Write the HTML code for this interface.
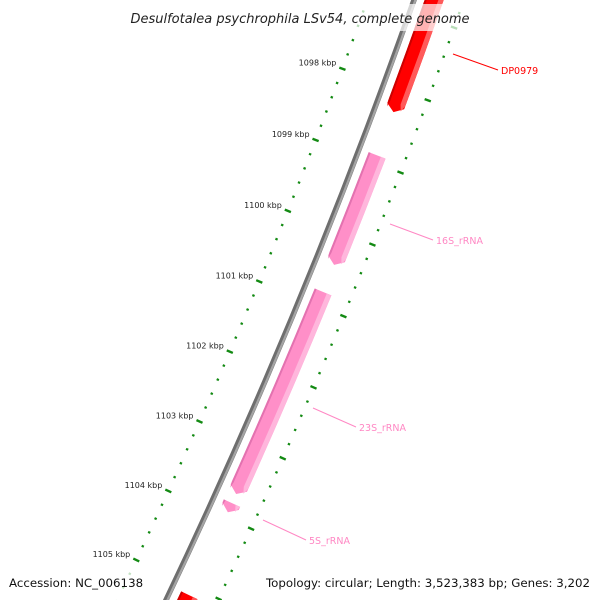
<!DOCTYPE html>
<html><head><meta charset="utf-8">
<style>
html,body{margin:0;padding:0;background:#fff;width:600px;height:600px;overflow:hidden;}
svg{display:block;font-family:"DejaVu Sans","Liberation Sans",sans-serif;overflow:hidden;}
</style></head>
<body>
<svg id="chart" width="600" height="600" viewBox="0 0 600 600" xmlns="http://www.w3.org/2000/svg">
<g id="ticks"></g>
<g id="backbone"></g>
<g id="features"></g>
<g id="labels"></g>
<rect x="120" y="4" width="360" height="27" fill="#fff" fill-opacity="0.7"/>
<text x="300" y="23" text-anchor="middle" font-size="13" font-style="italic" fill="#222">Desulfotalea psychrophila LSv54, complete genome</text>
<rect x="0" y="572" width="152" height="28" fill="#fff" fill-opacity="0.75"/>
<rect x="258" y="572" width="342" height="28" fill="#fff" fill-opacity="0.75"/>
<text x="9" y="587" font-size="11.8" fill="#111">Accession: NC_006138</text>
<text x="590" y="587" text-anchor="end" font-size="11.8" fill="#111">Topology: circular; Length: 3,523,383 bp; Genes: 3,202</text>
</svg>
<script>
const tickStartKbp = 1096.8;
const tickEndKbp = 1105.8;
const majorLabels = [1098, 1099, 1100, 1101, 1102, 1103, 1104, 1105];
const featureNames = ["DP0979", "16S_rRNA", "23S_rRNA", "5S_rRNA", "next-gene"];
const featureStarts = [1096.0, 1098.90, 1100.81, 1103.80, 1105.12];
const featureEnds = [1098.30, 1100.43, 1103.67, 1103.93, 1107.0];
const featureKinds = ["gene", "rrna", "rrna", "rrna", "gene"];
const labelTexts = ["DP0979", "16S_rRNA", "23S_rRNA", "5S_rRNA"];

const NS = "http://www.w3.org/2000/svg";
const CX = -5432, CY = -2065, R = 6200;
function ang(kbp){ return 20.28 + (kbp - 1098) * 0.7086; }
function pt(r, a){ const t = a * Math.PI / 180; return [CX + r * Math.cos(t), CY + r * Math.sin(t)]; }
function mk(tag, attrs, parent){ const e = document.createElementNS(NS, tag); for (const k in attrs) e.setAttribute(k, attrs[k]); parent.appendChild(e); return e; }

const tg = document.getElementById('ticks');
const rings = [R - 44, R + 47];
for (let i = 0; Math.round((tickStartKbp + i * 0.2) * 10) <= Math.round(tickEndKbp * 10); i++) {
  const k = Math.round((tickStartKbp + i * 0.2) * 10) / 10;
  const major = Math.abs(k - Math.round(k)) < 1e-6;
  const a = ang(k);
  rings.forEach((r) => {
    const h = major ? 3.3 : 1.2;
    const p1 = pt(r - h, a), p2 = pt(r + h, a);
    const l = mk('line', {x1: p1[0], y1: p1[1], x2: p2[0], y2: p2[1], stroke: '#138a13', 'stroke-width': major ? 2.4 : 2.2}, tg);
    
    
  });
}
majorLabels.forEach(k => {
  const p = pt(R - 44, ang(k));
  const t = mk('text', {x: p[0] - 6, y: p[1] - 3, 'text-anchor': 'end', 'font-size': '8', fill: '#222'}, tg);
  t.textContent = k + ' kbp';
  
  
});

const bg = document.getElementById('backbone');
function arcPath(r, a1, a2){ const p1 = pt(r, a1), p2 = pt(r, a2); return `M${p1[0]},${p1[1]} A${r},${r} 0 0 1 ${p2[0]},${p2[1]}`; }
const b1 = mk('path', {d: arcPath(R, 18.5, 26.0), stroke: '#6e6e6e', 'stroke-width': 5.5, fill: 'none'}, bg);


const b2 = mk('path', {d: arcPath(R + 1.3, 18.5, 26.0), stroke: '#a4a4a4', 'stroke-width': 2.2, fill: 'none'}, bg);



const fg = document.getElementById('features');
function bandPath(ri, ro, a1, a2){
  const tip = 0.06; const aE = a2 - tip; const rm = (ri + ro) / 2;
  const o1 = pt(ro, a1), o2 = pt(ro, aE), tp = pt(rm, a2), i2 = pt(ri, aE), i1 = pt(ri, a1);
  return `M${o1[0]},${o1[1]} A${ro},${ro} 0 0 1 ${o2[0]},${o2[1]} L${tp[0]},${tp[1]} L${i2[0]},${i2[1]} A${ri},${ri} 0 0 0 ${i1[0]},${i1[1]} Z`;
}
featureNames.forEach((n, i) => {
  const a1 = ang(featureStarts[i]), a2 = Math.min(ang(featureEnds[i]), 26.0);
  const gene = featureKinds[i] === 'gene';
  const main = mk('path', {d: bandPath(R + 10, R + 28, a1, a2), fill: gene ? '#ff0000' : '#ff8fc8'}, fg);
  
  
  const hi = mk('path', {d: bandPath(R + 23, R + 28, a1, a2 - 0.03), fill: gene ? '#ff5a5a' : '#ffb6dc'}, fg);
  
  
  const sh = mk('path', {d: bandPath(R + 10, R + 12, a1, a2 - 0.03), fill: gene ? '#cc0000' : '#e372b0'}, fg);
  
  
});

const lg = document.getElementById('labels');
const labelLines = [[453,54,498,70],[390,224,433,240],[313,408,356,427],[263,520,306,540]];
const labelColors = ['#ff0000','#ff88c4','#ff88c4','#ff88c4'];
labelTexts.forEach((s, i) => {
  const L = labelLines[i];
  const ln = mk('line', {x1: L[0], y1: L[1], x2: L[2], y2: L[3], stroke: labelColors[i], 'stroke-width': 1}, lg);
  
  
  const t = mk('text', {x: L[2] + 3, y: L[3] + 4, 'font-size': '9.5', fill: labelColors[i]}, lg);
  t.textContent = s;
  
  
});
</script>
</body></html>
